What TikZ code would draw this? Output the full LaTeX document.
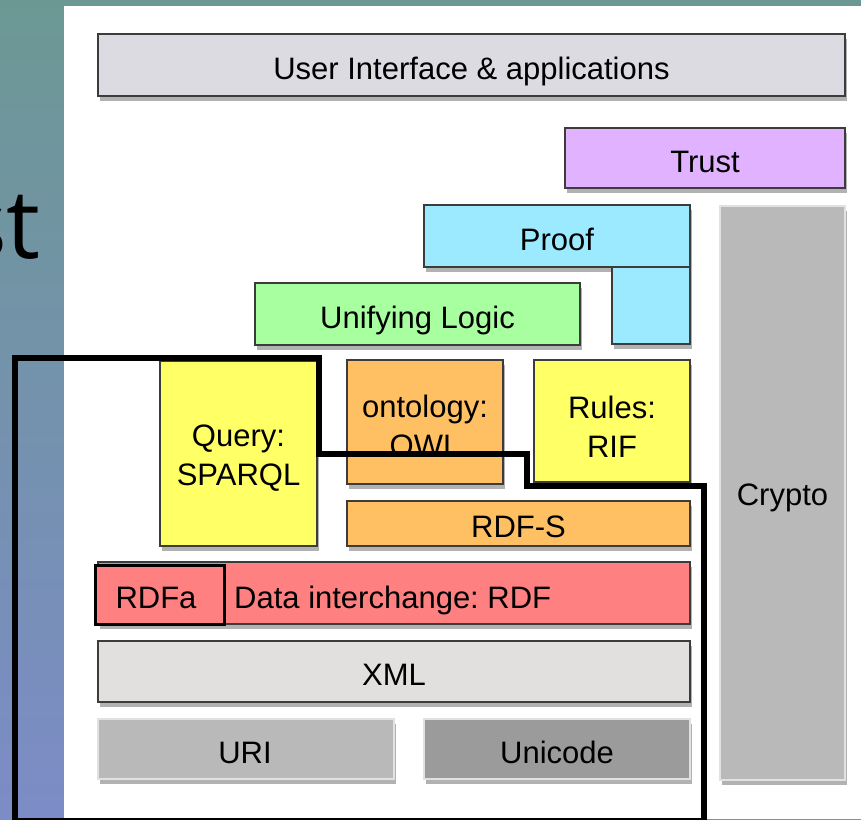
\documentclass[tikz,border=0pt]{standalone}
\usepackage{fontspec}
\setmainfont{Liberation Sans}
\newfontfamily\slidefont{Open Sans}
\usetikzlibrary{shadows}
\frenchspacing
\definecolor{bgtop}{RGB}{108,152,148}
\definecolor{bgbot}{RGB}{124,140,198}
\definecolor{bordc}{RGB}{60,60,60}
\definecolor{uicol}{RGB}{220,219,226}
\definecolor{trustcol}{RGB}{224,178,255}
\definecolor{proofcol}{RGB}{156,234,255}
\definecolor{logiccol}{RGB}{168,255,160}
\definecolor{yellowcol}{RGB}{255,255,102}
\definecolor{orangecol}{RGB}{255,192,100}
\definecolor{salmoncol}{RGB}{255,128,128}
\definecolor{xmlcol}{RGB}{226,223,223}
\definecolor{lgray}{RGB}{185,185,185}
\definecolor{dgray}{RGB}{155,155,155}
\definecolor{lborder}{RGB}{225,225,225}
\begin{document}
\begin{tikzpicture}[x=1pt,y=-1pt,
  shadowed/.style={drop shadow={shadow xshift=2pt,shadow yshift=-5pt,opacity=0.3,fill=black}},
  layer/.style={shape=rectangle,draw=bordc,line width=1.3pt,inner sep=0pt,shadowed},
  lightlayer/.style={layer,draw=lborder},
  lbl/.style={inner sep=0pt,align=center,font=\fontsize{31}{39}\selectfont},
  outline/.style={line width=6pt,draw=black,line join=miter}]
\path[use as bounding box] (0,0) rectangle (861,819);
\shade[top color=bgtop,bottom color=bgbot] (0,0) rectangle (861,819);
\fill[white] (64,6) rectangle (861,819);
\node[anchor=base east,inner sep=0pt,font=\slidefont\fontsize{96}{110}\selectfont] (title) at (41,258) {st};

% boxes
\node[layer,fill=uicol,minimum width=747pt,minimum height=62pt] (ui) at (471.5,65) {};
\node[layer,fill=trustcol,minimum width=280pt,minimum height=60pt] (trust) at (705,158) {};
\node[layer,fill=proofcol,minimum width=266pt,minimum height=62pt] (proof) at (557,236) {};
\node[layer,fill=proofcol,minimum width=78pt,minimum height=77pt] (proofb) at (651,305.5) {};
\node[lightlayer,fill=lgray,minimum width=125pt,minimum height=574pt] (crypto) at (782.5,493) {};
\node[layer,fill=logiccol,minimum width=325pt,minimum height=62pt] (logic) at (417.5,314) {};
\node[layer,fill=yellowcol,minimum width=157pt,minimum height=185pt] (query) at (238.5,453.5) {};
\node[layer,fill=orangecol,minimum width=156pt,minimum height=124pt] (owl) at (425,422) {};
\node[layer,fill=yellowcol,minimum width=156pt,minimum height=122pt] (rif) at (612,421) {};
\node[layer,fill=orangecol,minimum width=343pt,minimum height=45pt] (rdfs) at (518.5,523.5) {};
\node[layer,fill=salmoncol,minimum width=592pt,minimum height=62pt] (rdf) at (394,593) {};
\node[draw=black,line width=3pt,fill=salmoncol,inner sep=0pt,minimum width=129pt,minimum height=59pt] (rdfa) at (160,595) {};
\node[layer,fill=xmlcol,minimum width=592pt,minimum height=61pt] (xml) at (394,671.5) {};
\node[lightlayer,fill=lgray,minimum width=296pt,minimum height=60pt] (uri) at (246,749) {};
\node[lightlayer,fill=dgray,minimum width=266pt,minimum height=60pt] (unicode) at (557,749) {};

% labels
\node[lbl,anchor=base] (tui) at (471.5,79.5) {User Interface \& applications};
\node[lbl,anchor=base] (ttrust) at (705,172.7) {Trust};
\node[lbl,anchor=base] (tproof) at (557,250.7) {Proof};
\node[lbl,anchor=base] (tlogic) at (417.5,328.6) {Unifying Logic};
\node[lbl,anchor=base] (tcrypto) at (782.5,505) {Crypto};
\node[lbl] (tquery) at (238.5,457.75) {Query:\\SPARQL};
\begin{scope}
\clip (347,360) rectangle (503,456);
\node[lbl] (towl) at (425,425.75) {ontology:\\OWL};
\end{scope}
\node[lbl] (trif) at (612,426.75) {Rules:\\RIF};
\node[lbl,anchor=base] (trdfs) at (518.5,537.3) {RDF-S};
\node[lbl,anchor=base] (trdfa) at (156,608.3) {RDFa};
\node[lbl,anchor=base west] (trdf) at (234,608.3) {Data interchange: RDF};
\node[lbl,anchor=base] (txml) at (394,685.7) {XML};
\node[lbl,anchor=base] (turi) at (245,763.3) {URI};
\node[lbl,anchor=base] (tunicode) at (557,763.3) {Unicode};

% thick outline
\draw[outline] (15,821) -- (15,358) -- (319,358) -- (319,454) -- (527,454) -- (527,486) -- (704,486) -- (704,821) -- cycle;
\end{tikzpicture}
\end{document}
